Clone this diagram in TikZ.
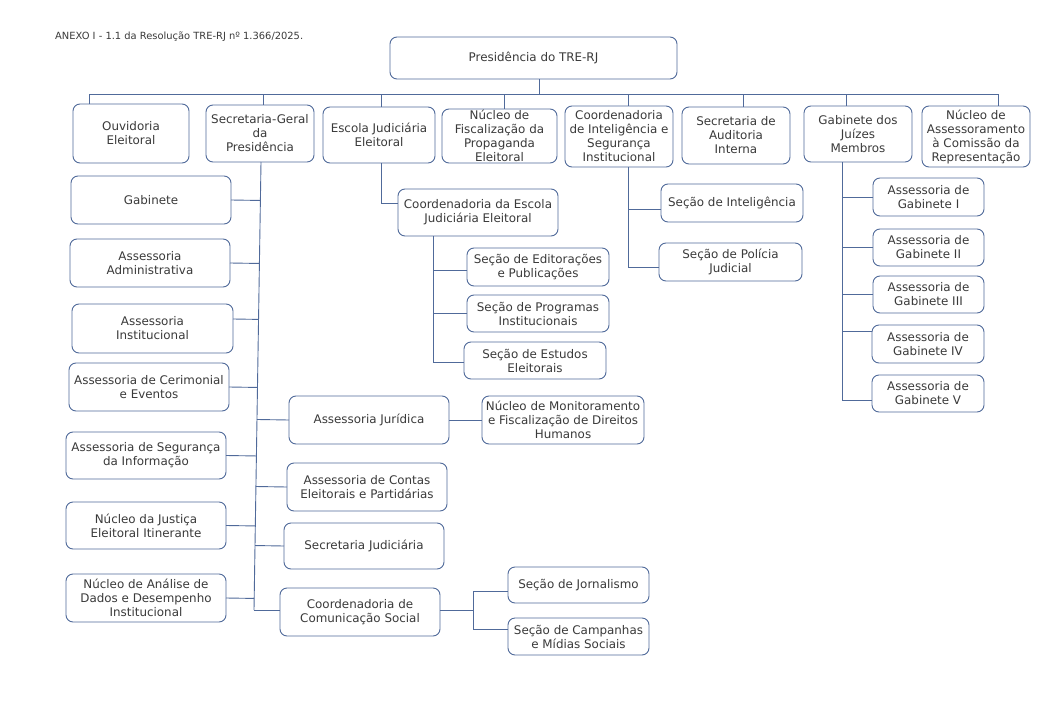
\documentclass[tikz,border=0pt]{standalone}
\usepackage{fontspec}
\setmainfont{DejaVu Sans}
\usetikzlibrary{calc}
\definecolor{lineblue}{HTML}{506A9A}
\definecolor{txt}{HTML}{3A3A3A}
\tikzset{
  box/.style={draw=lineblue, line width=0.9pt, rounded corners=7pt, inner sep=0pt, outer sep=0pt,
    align=center, text=txt, font=\fontsize{11.9}{14}\selectfont},
  conn/.style={draw=lineblue, line width=0.9pt},
}
\newcommand\bx[6]{\node[box, minimum width={(#4-#2)*1pt}, minimum height={(#5-#3)*1pt}] (#1) at ({(#2+#4)/2},{(#3+#5)/2}) {#6};}
\begin{document}
\begin{tikzpicture}[x=1pt,y=-1pt]
\useasboundingbox[fill=white] (0,0) rectangle (1050,704);
\node[anchor=west, text=txt, font=\fontsize{9.9}{12}\selectfont, inner sep=0pt] (title) at (55,37) {ANEXO I - 1.1 da Resolução TRE-RJ nº 1.366/2025.};

% top level
\bx{pres}{390}{37}{677}{79}{Presidência do TRE-RJ}
\bx{ouv}{73}{104}{189}{163}{Ouvidoria\\Eleitoral}
\bx{sg}{206}{105}{314}{162}{Secretaria-Geral\\da\\Presidência}
\bx{ej}{323}{107}{435}{163}{Escola Judiciária\\Eleitoral}
\bx{nf}{442}{109}{557}{163}{Núcleo de\\Fiscalização da\\Propaganda\\Eleitoral}
\bx{ci}{565}{106}{673}{167}{Coordenadoria\\de Inteligência e\\Segurança\\Institucional}
\bx{sa}{682}{107}{790}{164}{Secretaria de\\Auditoria\\Interna}
\bx{gj}{804}{106}{912}{162}{Gabinete dos\\Juízes\\Membros}
\bx{na}{922}{106}{1030}{167}{Núcleo de\\Assessoramento\\à Comissão da\\Representação}

% left column
\bx{gab}{71}{176}{231}{224}{Gabinete}
\bx{adm}{70}{239}{230}{287}{Assessoria\\Administrativa}
\bx{ins}{72}{304}{233}{353}{Assessoria\\Institucional}
\bx{cer}{69}{363}{229}{411}{Assessoria de Cerimonial\\e Eventos}
\bx{seg}{66}{432}{226}{479}{Assessoria de Segurança\\da Informação}
\bx{iti}{66}{502}{226}{549}{Núcleo da Justiça\\Eleitoral Itinerante}
\bx{ana}{66}{574}{226}{622}{Núcleo de Análise de\\Dados e Desempenho\\Institucional}

% middle column under SG
\bx{jur}{289}{396}{449}{444}{Assessoria Jurídica}
\bx{mon}{482}{396}{644}{444}{Núcleo de Monitoramento\\e Fiscalização de Direitos\\Humanos}
\bx{con}{287}{463}{447}{511}{Assessoria de Contas\\Eleitorais e Partidárias}
\bx{sj}{284}{523}{444}{569}{Secretaria Judiciária}
\bx{ccs}{280}{588}{440}{636}{Coordenadoria de\\Comunicação Social}
\bx{jor}{508}{567}{649}{603}{Seção de Jornalismo}
\bx{cam}{508}{618}{649}{655}{Seção de Campanhas\\e Mídias Sociais}

% escola
\bx{cej}{398}{189}{558}{236}{Coordenadoria da Escola\\Judiciária Eleitoral}
\bx{edi}{467}{248}{609}{286}{Seção de Editorações\\e Publicações}
\bx{pro}{467}{295}{609}{332}{Seção de Programas\\Institucionais}
\bx{est}{464}{342}{606}{379}{Seção de Estudos\\Eleitorais}

% inteligencia
\bx{int}{661}{184}{803}{222}{Seção de Inteligência}
\bx{pol}{659}{243}{802}{281}{Seção de Polícia\\Judicial}

% gabinete dos juizes
\bx{g1}{873}{178}{984}{216}{Assessoria de\\Gabinete I}
\bx{g2}{873}{229}{984}{266}{Assessoria de\\Gabinete II}
\bx{g3}{873}{276}{984}{313}{Assessoria de\\Gabinete III}
\bx{g4}{872}{325}{984}{363}{Assessoria de\\Gabinete IV}
\bx{g5}{872}{375}{984}{412}{Assessoria de\\Gabinete V}

% ---- connectors ----
\coordinate (bP) at (539,94);
\coordinate (b1) at (89,94);
\coordinate (b2) at (263,94);
\coordinate (b3) at (381,94);
\coordinate (b4) at (504,94);
\coordinate (b5) at (628,94);
\coordinate (b6) at (743,94);
\coordinate (b7) at (846,94);
\coordinate (b8) at (998,94);
\draw[conn] (pres.south -| bP) -- (bP);
\draw[conn] (b1 |- ouv.north) -- (b1) -- (b8) -- (b8 |- na.north);
\foreach \b/\n in {b2/sg, b3/ej, b4/nf, b5/ci, b6/sa, b7/gj}
  \draw[conn] (\b) -- (\b |- \n.north);

% SG trunk (slightly slanted)
\coordinate (tA) at (261,162);
\coordinate (tB) at (254,610);
\draw[conn] (tA) -- (tB);
\foreach \n in {gab, adm, cer, seg, iti, ana}
  \draw[conn] (\n.east) -- ($(tA)!(\n.east)!(tB)$);
\draw[conn] ([yshift=9.5pt]ins.east) -- ($(tA)!([yshift=9.5pt]ins.east)!(tB)$);
\foreach \n in {jur, con, sj}
  \draw[conn] (\n.west) -- ($(tA)!(\n.west)!(tB)$);
\draw[conn] (tB) -- (tB -| ccs.west);

\draw[conn] (jur.east) -- (mon.west);

% CCS sections
\coordinate (cv) at (473,610);
\draw[conn] (ccs.east |- cv) -- (cv);
\draw[conn] ([yshift=-6pt]jor.west) -| (cv);
\draw[conn] ([yshift=7.5pt]cam.west) -| (cv);

% escola
\coordinate (ex) at (381,0);
\draw[conn] (ej.south -| ex) |- ([yshift=9.5pt]cej.west);
\coordinate (cx) at (433,0);
\draw[conn] (cej.south -| cx) |- ([yshift=-1.5pt]est.west);
\draw[conn] ([yshift=-3pt]edi.west) -- ([yshift=-3pt]edi.west -| cx);
\draw[conn] (pro.west) -- (pro.west -| cx);

% inteligencia
\coordinate (ix) at (628,0);
\draw[conn] (ci.south -| ix) |- ([yshift=-5pt]pol.west);
\draw[conn] ([yshift=-6pt]int.west) -- ([yshift=-6pt]int.west -| ix);

% gabinete dos juizes
\coordinate (gx) at (842,0);
\draw[conn] (gj.south -| gx) |- ([yshift=-6.5pt]g5.west);
\draw[conn] (g1.west) -- (g1.west -| gx);
\draw[conn] (g2.west) -- (g2.west -| gx);
\draw[conn] (g3.west) -- (g3.west -| gx);
\draw[conn] ([yshift=13pt]g4.west) -- ([yshift=13pt]g4.west -| gx);
\end{tikzpicture}
\end{document}
